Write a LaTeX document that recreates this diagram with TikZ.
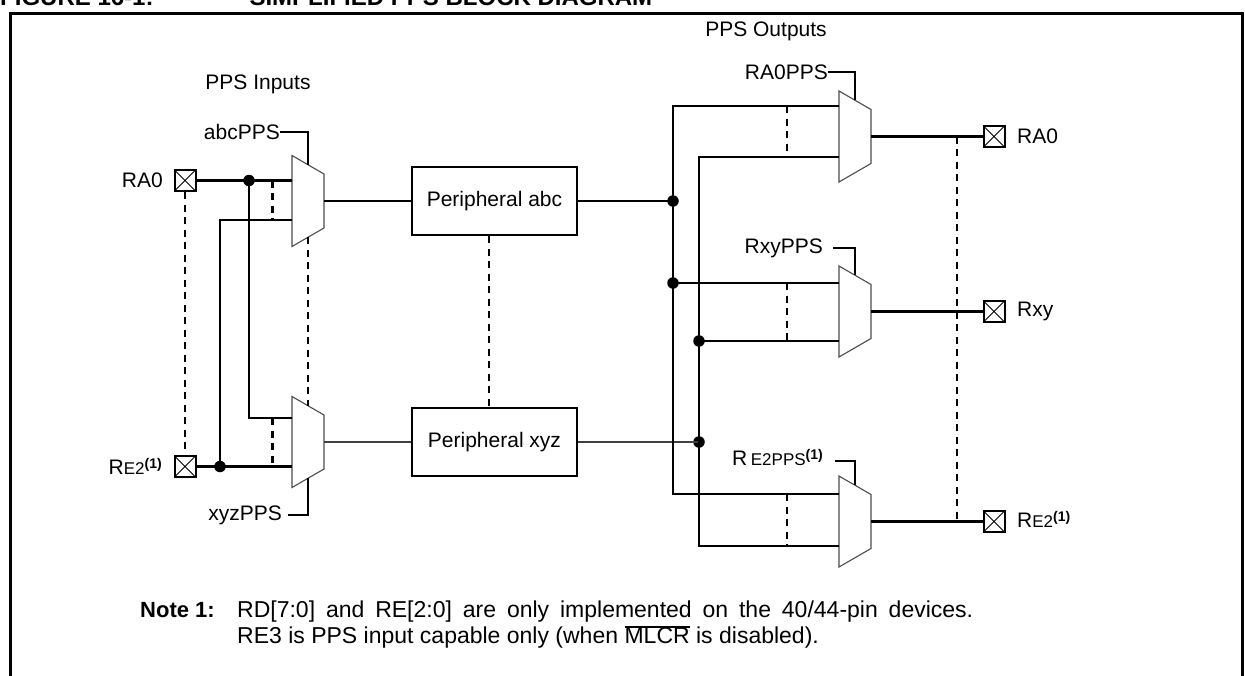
\documentclass[tikz,border=0pt]{standalone}
\usepackage{fontspec}
\setmainfont{Liberation Sans}
\newcommand\drawmux[5]{%
  \draw[muxline, fill=white] (#2-16,#3-45.5) -- (#2+16,#3-27) -- (#2+16,#3+27) -- (#2-16,#3+45.5) -- cycle;
  \coordinate (#1-l) at (#2-16,#3);
  \coordinate (#1-i1) at (#2-16,#3+#4);
  \coordinate (#1-i2) at (#2-16,#3+#5);
  \coordinate (#1-out) at (#2+16,#3);
  \coordinate (#1-top) at (#2,#3-36.25);
  \coordinate (#1-bot) at (#2,#3+36.25);
}
\newcommand\supone{\raisebox{6pt}{\fontsize{14}{14}\selectfont\bfseries (1)}}
\newcommand\smallcap[1]{{\fontsize{17}{17}\selectfont #1}}
\newcommand\myovl[1]{\setbox0\hbox{#1}\rlap{\rule[15pt]{\wd0}{2pt}}\box0\relax}
\begin{document}
\begin{tikzpicture}[x=1pt,y=-1pt,
  wire/.style={line width=2.4pt},
  thinwire/.style={line width=1.3pt, black!75},
  muxline/.style={line width=1.1pt, black!70},
  dashline/.style={line width=2.2pt, dash pattern=on 7pt off 5.5pt},
  lbl/.style={font=\fontsize{21}{25}\selectfont, inner sep=0pt},
  notetxt/.style={font=\fontsize{23}{27}\selectfont, inner sep=0pt, anchor=base west},
  periph/.style={draw, line width=2.5pt, minimum width=165pt, minimum height=68pt, inner sep=0pt, font=\fontsize{21}{25}\selectfont},
  pinbox/.style={draw, line width=2pt, minimum size=21pt, inner sep=0pt,
    path picture={\draw[line width=1pt] (path picture bounding box.north west) -- (path picture bounding box.south east)
      (path picture bounding box.north east) -- (path picture bounding box.south west);}},
  jdot/.style={circle, fill, inner sep=0pt, minimum size=11.5pt}]
\useasboundingbox (0,0) rectangle (1245,675);
% title (cut off at top)
\begin{scope}
\clip (0,0) rectangle (1245,675);
\node[inner sep=0pt, anchor=base west, font=\fontsize{24}{28}\selectfont\bfseries] (title) at (0,5) {FIGURE 16-1:\hspace{96pt}SIMPLIFIED PPS BLOCK DIAGRAM};
\end{scope}
% frame
\draw[line width=3pt] (10,680) -- (10,13) -- (1242,13) -- (1242,680);
% ---------- left part
\node[lbl] (pin) at (258,84) {PPS Inputs};
\drawmux{m1}{308}{201}{-20.5}{19}
\drawmux{m2}{308}{442}{-24}{24.5}
\node[pinbox] (pA) at (185,180.5) {};
\node[pinbox] (pE) at (185,466.5) {};
\node[lbl, anchor=east] (lA) at (163,180.5) {RA0};
\node[lbl, anchor=east] (lE) at (162,466.5) {R\smallcap{E2}\supone};
\node[jdot] (dA) at (249,180.5) {};
\node[jdot] (dE) at (220,466.5) {};
\draw[wire] (pA.east) -- (m1-i1);
\draw[wire] (pE.east) -- (m2-i2);
\draw[wire] (dA.center) |- (m2-i1);
\draw[wire] (dE.center) |- (m1-i2);
\draw[dashline] ([xshift=-19.5pt]m1-i1) -- ([xshift=-19.5pt]m1-i2);
\draw[dashline] ([xshift=-19.5pt]m2-i1) -- ([xshift=-19.5pt]m2-i2);
\draw[dashline] (pA.south) -- (pE.north);
\draw[dashline] (m1-bot) -- (m2-top);
\node[lbl, anchor=east] (sA) at (280,132) {abcPPS};
\draw[wire] (sA.east) -| (m1-top);
\node[lbl, anchor=east] (sX) at (282,515) {xyzPPS};
\draw[wire] ([xshift=6pt]sX.east) -| (m2-bot);
% peripherals
\node[periph] (abc) at (494.5,201) {Peripheral abc};
\node[periph] (xyz) at (494.5,442) {Peripheral xyz};
\draw[wire] (m1-out) -- (m1-out -| abc.west);
\draw[thinwire] (m2-out) -- (m2-out -| xyz.west);
\draw[dashline] ([xshift=-5.5pt]abc.south) -- ([xshift=-5.5pt]xyz.north);
% ---------- right part
\node[lbl] (pout) at (766,31) {PPS Outputs};
\drawmux{mA}{855}{136.5}{-30.5}{20.5}
\drawmux{mX}{855}{311.5}{-28.5}{29.5}
\drawmux{mE}{855}{521.5}{-27.5}{24.5}
\node[jdot] (d1) at (673,201) {};
\node[jdot] (d2) at (673,283) {};
\node[jdot] (d3) at (699,341) {};
\node[jdot] (d4) at (699,442) {};
\draw[wire] (abc.east) -- (d1.center);
\draw[thinwire] (xyz.east) -- (d4.center);
\draw[wire] (mA-i1) -| (d1.center) -- (d2.center) |- (mE-i1);
\draw[wire] (mA-i2) -| (d3.center) -- (d4.center) |- (mE-i2);
\draw[wire] (d2.center) -- (mX-i1);
\draw[wire] (d3.center) -- (mX-i2);
\draw[dashline] ([xshift=-52pt]mA-i1) -- ([xshift=-52pt]mA-i2);
\draw[dashline] ([xshift=-52pt]mX-i1) -- ([xshift=-52pt]mX-i2);
\draw[dashline] ([xshift=-52pt]mE-i1) -- ([xshift=-52pt]mE-i2);
\node[lbl, anchor=east] (sRA) at (828,72) {RA0PPS};
\draw[wire] (sRA.east) -| (mA-top);
\node[lbl, anchor=east] (sRX) at (823,248) {RxyPPS};
\draw[wire] ([xshift=10pt]sRX.east) -| (mX-top);
\node[lbl, anchor=east] (sRE) at (823,458) {R\,\smallcap{E2PPS}\supone};
\draw[wire] ([xshift=12pt]sRE.east |- 0,461) -| (mE-top);
\node[pinbox] (qA) at (994,136.5) {};
\node[pinbox] (qX) at (994,311.5) {};
\node[pinbox] (qE) at (994,521.5) {};
\node[lbl, anchor=west] (lqA) at (1017,136.5) {RA0};
\node[lbl, anchor=west] (lqX) at (1017,311.5) {Rxy};
\node[lbl, anchor=west] (lqE) at (1017,519) {R\smallcap{E2}\supone};
\draw[wire] (mA-out) -- (qA.west);
\draw[wire] (mX-out) -- (qX.west);
\draw[wire] (mE-out) -- (qE.west);
\draw[dashline] ([xshift=-25.5pt]qA.west) -- ([xshift=-25.5pt]qE.west);
% ---------- note
\node[notetxt, font=\fontsize{22}{26}\selectfont\bfseries] (note) at (140,617) {Note 1:};
\node[notetxt] (n1) at (237,617) {\hbox to 736pt{RD[7:0] and RE[2:0] are only implemented on the 40/44-pin devices.}};
\node[notetxt] (n2) at (237,643) {RE3 is PPS input capable only (when \myovl{MLCR} is disabled).};
\end{tikzpicture}
\end{document}
